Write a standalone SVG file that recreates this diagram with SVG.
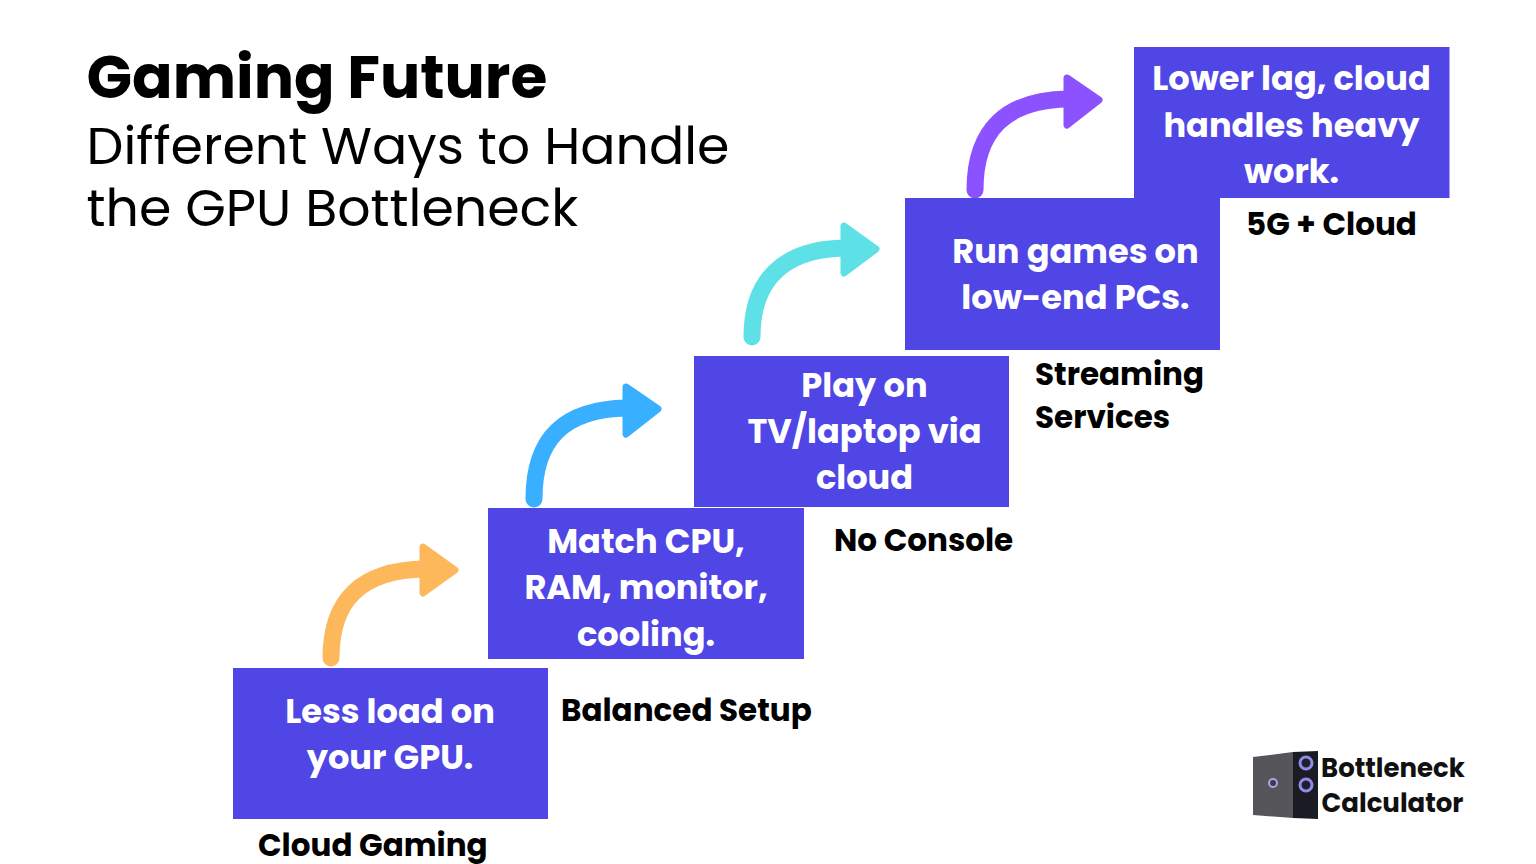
<svg xmlns="http://www.w3.org/2000/svg" width="1536" height="864" viewBox="0 0 1536 864">
<style>
text{font-family:Poppins,"Open Sans","Noto Sans",sans-serif}
.b{fill:#5046e5}
.w{fill:#fff;font-size:33.650px;font-weight:700;text-anchor:middle}
.k{fill:#000;font-size:31px;font-weight:700}
.a{fill:none;stroke-width:17;stroke-linecap:round}
.h{stroke-width:7;stroke-linejoin:round}
.f{fill:#1e1e2c;stroke:#8f8be8;stroke-width:3}
</style>
<rect width="1536" height="864" fill="#fff"/>
<text x="86.500" y="97.500" font-size="59.800" font-weight="700">Gaming Future</text>
<text x="86.500" y="163.500" font-size="52.200">Different Ways to Handle</text>
<text x="86.500" y="226" font-size="52.200">the GPU Bottleneck</text>
<g id="connectors">
<g><path class="a" stroke="#fdb85c" d="M331 658C331 601 360 570 425 569"/><path class="h" fill="#fdb85c" stroke="#fdb85c" d="M423 547L455 570L423 593Z"/></g>
<g><path class="a" stroke="#38b0ff" d="M534 499C534 440 563 409 627 408"/><path class="h" fill="#38b0ff" stroke="#38b0ff" d="M626 387L658 409L626 434Z"/></g>
<g><path class="a" stroke="#5de0e6" d="M752 337C752 280 783 249 845 248"/><path class="h" fill="#5de0e6" stroke="#5de0e6" d="M844 226L876 249L844 273Z"/></g>
<g><path class="a" stroke="#8c52ff" d="M975 190C975 130 1006 100 1068 99"/><path class="h" fill="#8c52ff" stroke="#8c52ff" d="M1067 78L1099 100L1067 125Z"/></g>
</g>
<g id="n1"><rect class="b" x="233" y="668" width="315" height="151"/><text class="w" x="390" y="723">Less load on</text><text class="w" x="390" y="769">your GPU.</text><text class="k" x="258" y="856">Cloud Gaming</text></g>
<g id="n2"><rect class="b" x="488" y="508" width="316" height="151"/><text class="w" x="646" y="553">Match CPU,</text><text class="w" x="646" y="599">RAM, monitor,</text><text class="w" x="646" y="646">cooling.</text><text class="k" x="561" y="721">Balanced Setup</text></g>
<g id="n3"><rect class="b" x="694" y="356" width="315" height="151"/><text class="w" x="864.500" y="397">Play on</text><text class="w" x="864.500" y="443">TV/laptop via</text><text class="w" x="864.500" y="489">cloud</text><text class="k" x="834" y="550.500">No Console</text></g>
<g id="n4"><rect class="b" x="905" y="198" width="315" height="152"/><text class="w" x="1075.500" y="263">Run games on</text><text class="w" x="1075.500" y="309">low-end PCs.</text><text class="k" x="1035" y="385">Streaming</text><text class="k" x="1035" y="428">Services</text></g>
<g id="n5"><rect class="b" x="1134" y="47" width="315.500" height="151"/><text class="w" x="1291.500" y="90">Lower lag, cloud</text><text class="w" x="1291.500" y="137">handles heavy</text><text class="w" x="1291.500" y="183">work.</text><text class="k" x="1246" y="235">5G + Cloud</text></g>
<g id="logo"><path fill="#55555a" d="M1253 757L1293 752V818L1253 815Z"/><path fill="#1b1b24" d="M1293 752L1318 751V819L1293 818Z"/><circle class="f" cx="1306" cy="763" r="6"/><circle class="f" cx="1306" cy="785" r="6"/><circle cx="1273" cy="783" r="4" fill="#3a3a55" stroke="#a8a4e8" stroke-width="2"/><text x="1321" y="777" font-size="26" font-weight="700" fill="#111">Bottleneck</text><text x="1321.500" y="812" font-size="26" font-weight="700" fill="#111">Calculator</text></g>
</svg>
